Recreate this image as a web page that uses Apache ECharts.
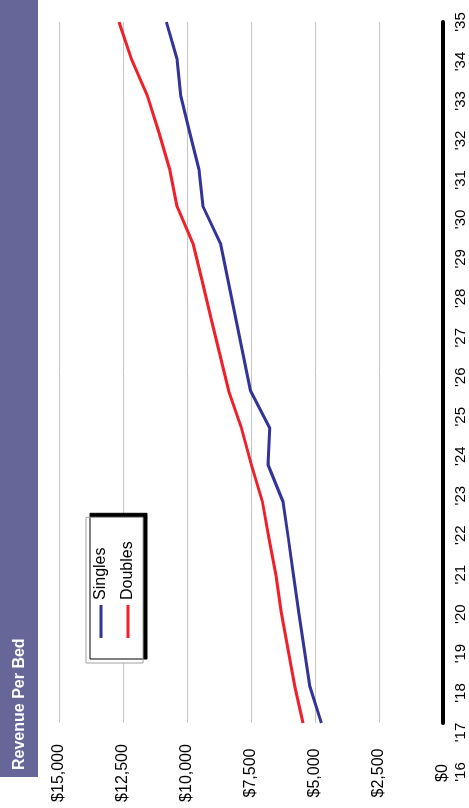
<!DOCTYPE html>
<html>
<head>
<meta charset="utf-8">
<script src="https://cdn.jsdelivr.net/npm/echarts@6/dist/echarts.min.js"></script>
<style>
  html, body { margin: 0; padding: 0; background: #fff; overflow: hidden; }
  /* the chart is laid out landscape and turned a quarter turn to stand upright */
  #chart {
    position: absolute; left: 0; top: 0;
    width: 808px; height: 469px;
    transform-origin: 0 0;
    transform: translate(0, 808px) rotate(-90deg);
  }
</style>
</head>
<body>
<div id="chart"></div>
<script>
const years = ["'16","'17","'18","'19","'20","'21","'22","'23","'24","'25",
               "'26","'27","'28","'29","'30","'31","'32","'33","'34","'35"];
const singles = [4750, 5207, 5420, 5632, 5840, 6040, 6250, 6836, 6770, 7516,
                 7813, 8109, 8402, 8695, 9375, 9531, 9894, 10246, 10390, 10805];
const doubles = [5469, 5793, 6055, 6318, 6527, 6793, 7055, 7484, 7875, 8371,
                 8719, 9070, 9414, 9766, 10390, 10676, 11094, 11547, 12172, 12656];
const valueTicks = { min: 0, max: 15000, step: 2500 };

const FONT = "'Liberation Sans', Arial, sans-serif";
const chart = echarts.init(document.getElementById('chart'), null, { width: 808, height: 469 });

chart.setOption({
  animation: false,
  backgroundColor: '#ffffff',
  graphic: [
    { type: 'rect', left: 31, top: 0, shape: { width: 777, height: 38 },
      style: { fill: '#666699' }, z: 0 },
    { type: 'text', left: 38, top: 12,
      style: { text: 'Revenue Per Bed', fill: '#ffffff', font: 'bold 16px ' + FONT }, z: 1 }
  ],
  grid: [
    // plotting area
    { left: 85, right: 22, top: 59, bottom: 26 },
    // year labels run on a slightly longer band than the plot
    { left: 36, right: 22, top: 59, bottom: 26 }
  ],
  legend: {
    orient: 'vertical',
    left: 145, top: 86,
    padding: [7, 24, 7, 25],
    itemGap: 11,
    icon: 'rect',
    itemWidth: 33, itemHeight: 3,
    backgroundColor: '#ffffff',
    borderColor: '#a0a0a0', borderWidth: 1, borderRadius: 0,
    shadowColor: '#000000', shadowBlur: 0, shadowOffsetX: 4, shadowOffsetY: 4,
    textStyle: { fontFamily: FONT, fontSize: 16, color: '#000' },
    data: ['Singles', 'Doubles']
  },
  xAxis: [
    {
      type: 'category', gridIndex: 0,
      data: years,
      boundaryGap: false,
      axisLine: { lineStyle: { color: '#000', width: 4 } },
      axisTick: { show: false },
      axisLabel: { show: false },
      splitLine: { show: false }
    },
    {
      type: 'category', gridIndex: 1,
      data: years,
      boundaryGap: false,
      axisLine: { show: false },
      axisTick: { show: false },
      axisLabel: { interval: 0, margin: 10, fontFamily: FONT, fontSize: 15, color: '#000' },
      splitLine: { show: false }
    }
  ],
  yAxis: [
    {
      type: 'value', gridIndex: 0,
      min: valueTicks.min, max: valueTicks.max, interval: valueTicks.step,
      axisLine: { show: false },
      axisTick: { show: false },
      axisLabel: {
        margin: 50, align: 'center',
        fontFamily: FONT, fontSize: 16, color: '#000',
        formatter: v => '$' + v.toLocaleString('en-US')
      },
      splitLine: { lineStyle: { color: '#c4c4c4', width: 1 } }
    },
    { type: 'value', gridIndex: 1, show: false, min: valueTicks.min, max: valueTicks.max }
  ],
  series: [
    { name: 'Singles', type: 'line', data: singles, symbol: 'none',
      xAxisIndex: 0, yAxisIndex: 0,
      lineStyle: { color: '#333399', width: 3 }, itemStyle: { color: '#333399' } },
    { name: 'Doubles', type: 'line', data: doubles, symbol: 'none',
      xAxisIndex: 0, yAxisIndex: 0,
      lineStyle: { color: '#f0202a', width: 3 }, itemStyle: { color: '#f0202a' } }
  ]
});
</script>
</body>
</html>
